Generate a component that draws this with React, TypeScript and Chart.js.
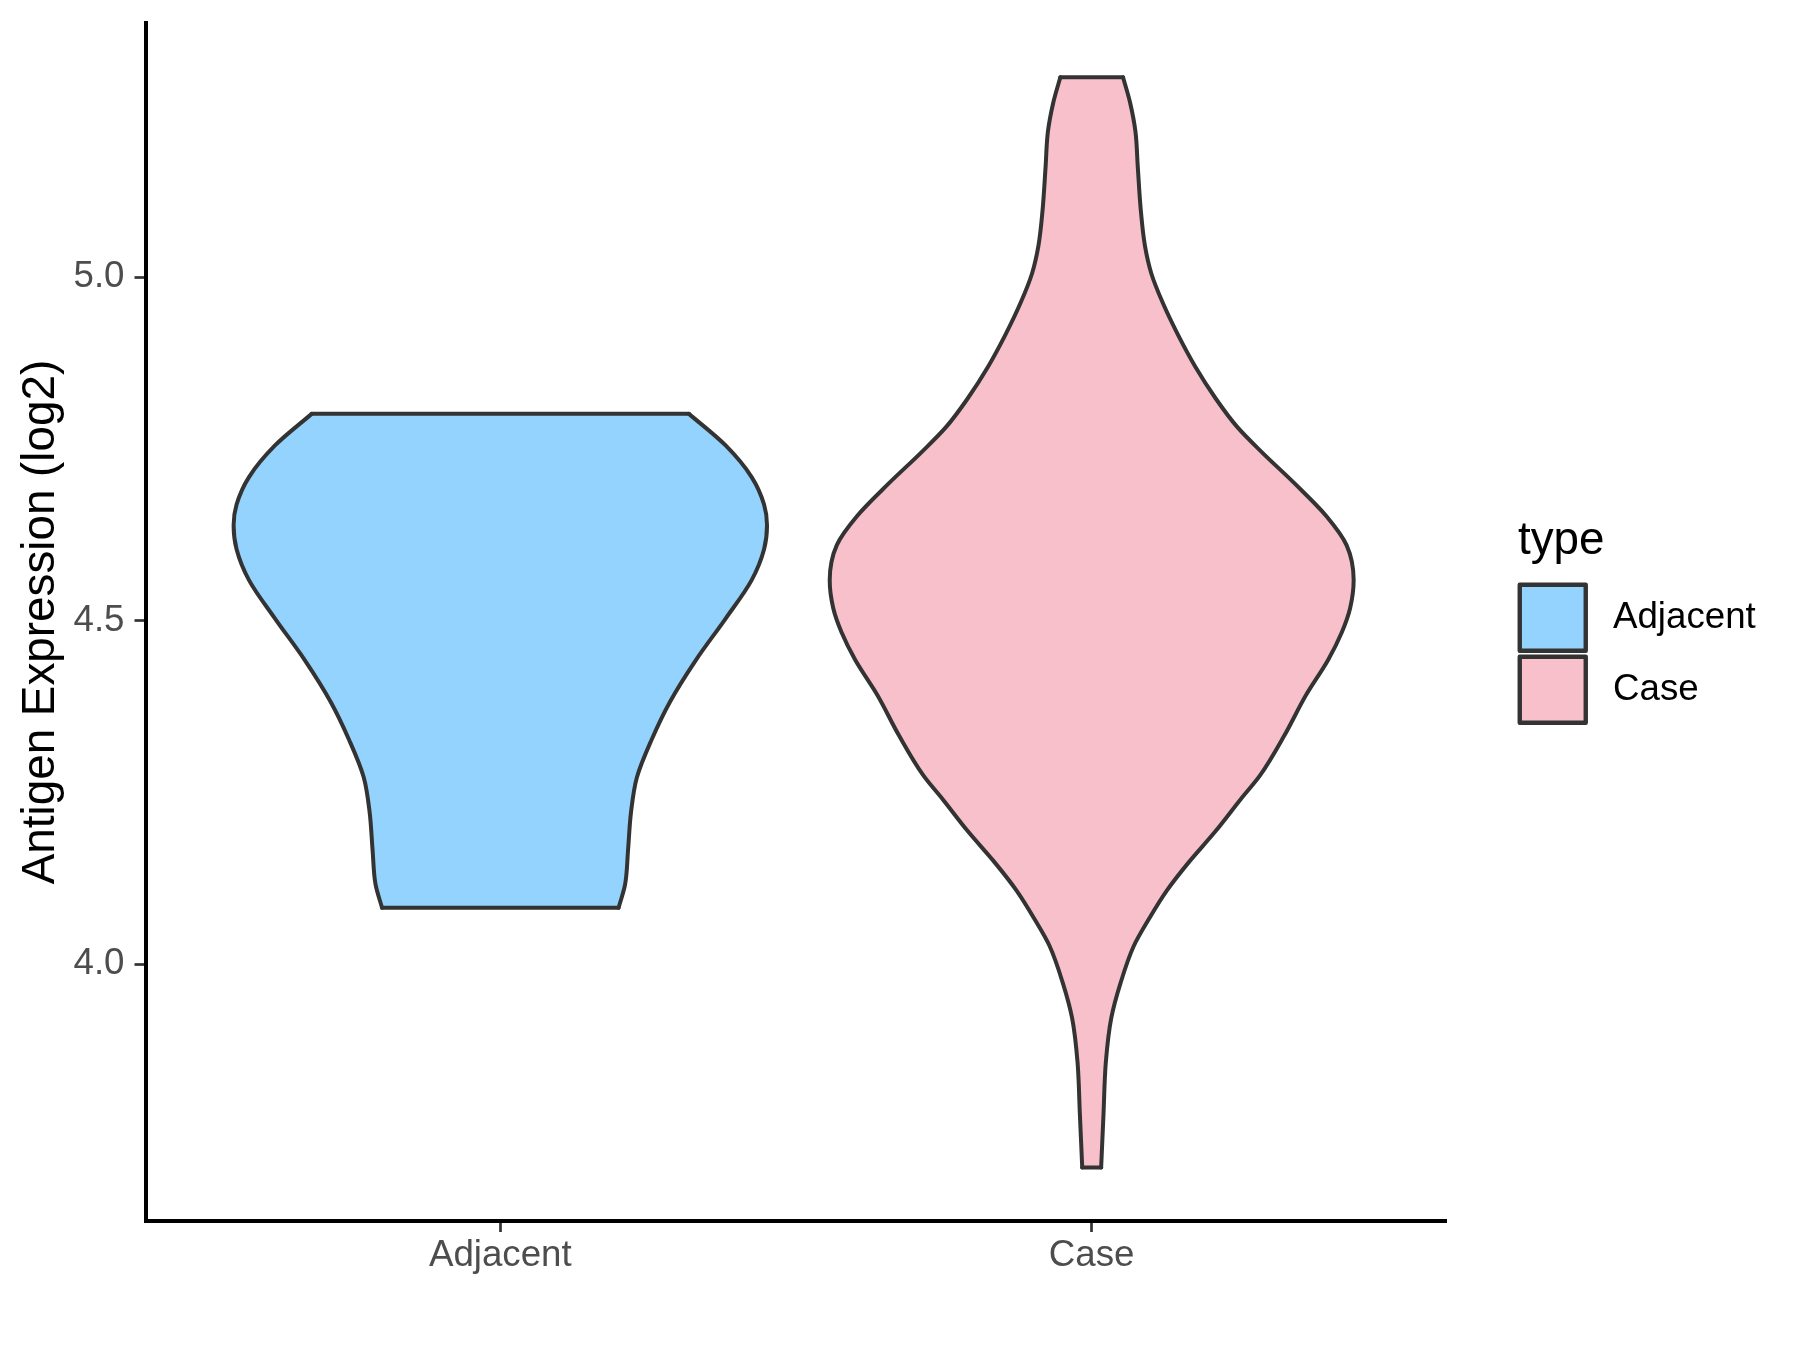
import React, { useEffect, useRef } from "react";
import { Chart, registerables } from "chart.js";

Chart.register(...registerables);

// ---- data ----
const CATEGORIES = ["Adjacent", "Case"];
const CATEGORY_POS = [1, 2];
const FILL_COLORS = ["#93D3FE", "#F7C0CB"];
const OUTLINE = "#333333";
const Y_TICKS = [4.0, 4.5, 5.0];
const Y_TITLE = "Antigen Expression (log2)";
const LEGEND_TITLE = "type";

// Adjacent violin: y levels (bottom to top) and half-widths (x units)
const ADJ_Y = [4.082, 4.116, 4.166, 4.221, 4.272, 4.327, 4.382, 4.443, 4.503, 4.559, 4.604, 4.639, 4.669, 4.709, 4.755, 4.801];
const ADJ_HW = [0.200, 0.211, 0.216, 0.221, 0.231, 0.256, 0.287, 0.331, 0.381, 0.425, 0.446, 0.451, 0.446, 0.425, 0.381, 0.319];

// Case violin
const CASE_Y = [3.704, 3.782, 3.858, 3.921, 3.973, 4.026, 4.066, 4.107, 4.147, 4.194, 4.240, 4.275, 4.333, 4.391, 4.443, 4.483, 4.518, 4.559, 4.610, 4.652, 4.699, 4.745, 4.782, 4.823, 4.870, 4.916, 4.963, 5.005, 5.046, 5.098, 5.160, 5.212, 5.254, 5.291];
const CASE_HW = [0.016, 0.020, 0.024, 0.033, 0.049, 0.071, 0.097, 0.127, 0.163, 0.210, 0.252, 0.285, 0.326, 0.362, 0.400, 0.423, 0.437, 0.443, 0.431, 0.397, 0.344, 0.288, 0.246, 0.210, 0.175, 0.146, 0.120, 0.101, 0.090, 0.083, 0.078, 0.074, 0.065, 0.053];

const VIOLINS = [
  { ys: ADJ_Y, hw: ADJ_HW },
  { ys: CASE_Y, hw: CASE_HW },
];

const Y_MIN = 3.626;
const Y_MAX = 5.37;
const X_MIN = 0.4;
const X_MAX = 2.6;

const FONT = "'Liberation Sans', Arial, sans-serif";

function buildDatasets() {
  const ds: any[] = [];
  VIOLINS.forEach((v, i) => {
    const c = CATEGORY_POS[i];
    const n = v.ys.length;
    const common = {
      borderColor: OUTLINE,
      borderWidth: 4,
      pointRadius: 0,
      pointHoverRadius: 0,
      cubicInterpolationMode: "monotone",
      borderCapStyle: "round",
      borderJoinStyle: "round",
    };
    ds.push({
      ...common,
      label: CATEGORIES[i],
      data: v.ys.map((y, k) => ({ x: c - v.hw[k], y })),
      backgroundColor: FILL_COLORS[i],
      fill: "+1",
    });
    ds.push({
      ...common,
      label: CATEGORIES[i] + "_r",
      data: v.ys.map((y, k) => ({ x: c + v.hw[k], y })),
      fill: false,
    });
    ds.push({
      ...common,
      label: CATEGORIES[i] + "_top",
      data: [
        { x: c - v.hw[n - 1], y: v.ys[n - 1] },
        { x: c + v.hw[n - 1], y: v.ys[n - 1] },
      ],
      fill: false,
    });
    ds.push({
      ...common,
      label: CATEGORIES[i] + "_bottom",
      data: [
        { x: c - v.hw[0], y: v.ys[0] },
        { x: c + v.hw[0], y: v.ys[0] },
      ],
      fill: false,
    });
  });
  return ds;
}

const legendPlugin = {
  id: "ggLegend",
  afterDraw(chart: any) {
    const ctx = chart.ctx as CanvasRenderingContext2D;
    ctx.save();
    ctx.fillStyle = "#000000";
    ctx.font = `45.8px ${FONT}`;
    ctx.textAlign = "left";
    ctx.textBaseline = "alphabetic";
    ctx.fillText(LEGEND_TITLE, 1518, 554);
    const cellX = 1516.75;
    const cellY0 = 581.75;
    const cell = 72;
    CATEGORIES.forEach((name, i) => {
      const y = cellY0 + i * cell;
      ctx.fillStyle = FILL_COLORS[i];
      ctx.fillRect(cellX + 3, y + 3, cell - 6, cell - 6);
      ctx.lineWidth = 4.4;
      ctx.lineJoin = "round";
      ctx.strokeStyle = OUTLINE;
      ctx.strokeRect(cellX + 3, y + 3, cell - 6, cell - 6);
      ctx.fillStyle = "#000000";
      ctx.font = `36.7px ${FONT}`;
      ctx.textBaseline = "middle";
      ctx.fillText(name, 1613, y + cell / 2);
    });
    ctx.restore();
  },
};

export default function App() {
  const ref = useRef<HTMLCanvasElement | null>(null);
  useEffect(() => {
    if (!ref.current) return;
    const chart = new Chart(ref.current, {
      type: "line",
      data: { datasets: buildDatasets() },
      plugins: [legendPlugin],
      options: {
        indexAxis: "y",
        animation: false,
        responsive: false,
        devicePixelRatio: 1,
        events: [],
        layout: { padding: { left: 0, top: 23, right: 1800 - 1446.5, bottom: 0 } },
        plugins: {
          legend: { display: false },
          tooltip: { enabled: false },
          title: { display: false },
          filler: { drawTime: "beforeDatasetsDraw" },
        },
        scales: {
          x: {
            type: "linear",
            min: X_MIN,
            max: X_MAX,
            afterBuildTicks: (scale: any) => {
              scale.ticks = CATEGORY_POS.map((v) => ({ value: v }));
            },
            afterFit: (scale: any) => {
              scale.height = 1350 - 1221;
              scale.paddingLeft = 0;
              scale.paddingRight = 0;
            },
            grid: {
              display: true,
              drawOnChartArea: false,
              drawTicks: true,
              tickLength: 11,
              tickColor: OUTLINE,
              tickWidth: 2.7,
            },
            border: { display: true, color: "#000000", width: 4 },
            ticks: {
              autoSkip: false,
              maxRotation: 0,
              padding: 2,
              color: "#4D4D4D",
              font: { family: FONT, size: 36.7 },
              callback: (v: any) => {
                const idx = CATEGORY_POS.indexOf(Number(v));
                return idx >= 0 ? CATEGORIES[idx] : "";
              },
            },
          },
          y: {
            type: "linear",
            min: Y_MIN,
            max: Y_MAX,
            afterBuildTicks: (scale: any) => {
              scale.ticks = Y_TICKS.map((v) => ({ value: v }));
            },
            afterFit: (scale: any) => {
              scale.width = 145.5;
              scale.paddingTop = 0;
              scale.paddingBottom = 0;
            },
            grid: {
              display: true,
              drawOnChartArea: false,
              drawTicks: true,
              tickLength: 11,
              tickColor: OUTLINE,
              tickWidth: 2.7,
            },
            border: { display: true, color: "#000000", width: 4 },
            ticks: {
              padding: 10,
              color: "#4D4D4D",
              font: { family: FONT, size: 36.7 },
              callback: (v: any) => Number(v).toFixed(1),
            },
            title: {
              display: true,
              text: Y_TITLE,
              color: "#000000",
              font: { family: FONT, size: 45.8 },
              padding: { top: 13.5, bottom: 0 },
            },
          },
        },
      } as any,
    });
    return () => chart.destroy();
  }, []);
  return (
    <div style={{ position: "fixed", left: 0, top: 0, width: 1800, height: 1350, background: "#ffffff" }}>
      <canvas ref={ref} width={1800} height={1350} style={{ width: 1800, height: 1350 }} />
    </div>
  );
}
